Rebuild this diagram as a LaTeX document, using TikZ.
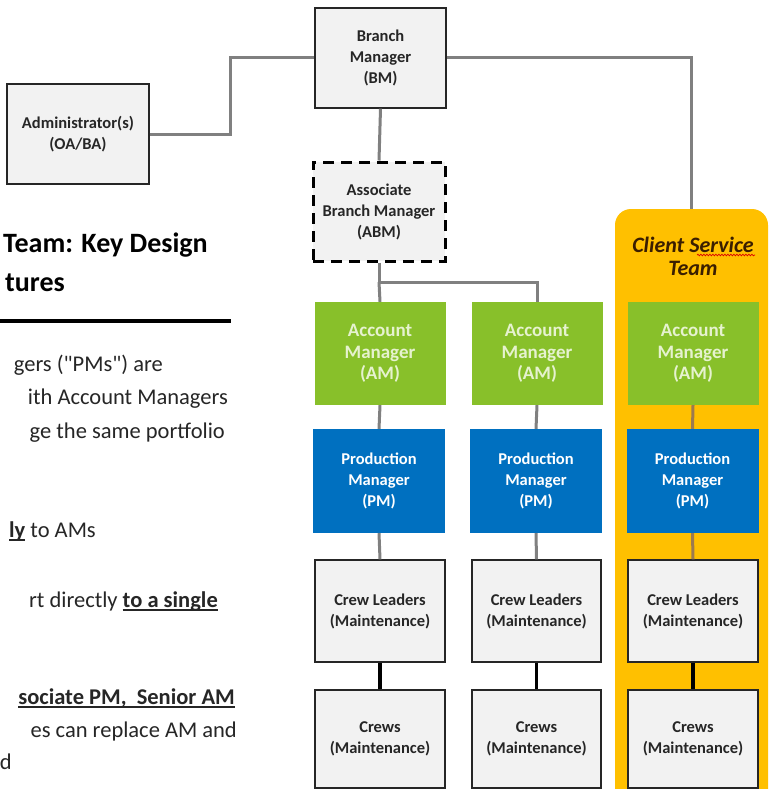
\documentclass[tikz,border=0pt]{standalone}
\usepackage{fontspec}
\setmainfont{Carlito}
\newfontfamily\rawfont{Carlito}[Ligatures=TeXOff]
\usetikzlibrary{decorations.pathmorphing}
\definecolor{boxfill}{HTML}{F2F2F2}
\definecolor{amgreen}{HTML}{88C02A}
\definecolor{amtext}{HTML}{E6F2CF}
\definecolor{pmblue}{HTML}{0070C0}
\definecolor{cstorange}{HTML}{FFC000}
\definecolor{lnk}{HTML}{808080}
\definecolor{lnkb}{HTML}{9C7A50}
\definecolor{txt}{HTML}{262626}
\definecolor{csttext}{HTML}{3A1E00}
\newcommand\bxfont{\fontsize{16.5}{21}\selectfont\bfseries}
\newcommand\amfont{\fontsize{19}{21.5}\selectfont\bfseries}
\newcommand\myul[1]{\setbox0\hbox{#1}\rlap{\rule[-4pt]{\wd0}{1.8pt}}\box0}
\newcommand\sq{{\rawfont"}}
\tikzset{
  gbox/.style={draw=black!85, line width=1.4pt, fill=boxfill, align=center, inner sep=0pt,
    font=\bxfont, text=txt, minimum width=131pt, minimum height=100pt},
  dbox/.style={gbox, draw=black, line width=3pt, dash pattern=on 11pt off 7pt},
  ambox/.style={fill=amgreen, align=center, inner sep=0pt, font=\amfont, text=amtext,
    minimum width=131pt, minimum height=103pt},
  pmbox/.style={fill=pmblue, align=center, inner sep=0pt, font=\bxfont, text=white,
    minimum width=132pt, minimum height=104pt},
  cstbox/.style={fill=cstorange, rounded corners=16pt, inner sep=0pt,
    minimum width=153pt, minimum height=611pt},
  lnkline/.style={draw=lnk, line width=3pt},
  lnkbline/.style={draw=lnkb, line width=3pt},
  blkline/.style={draw=black, line width=3.5pt},
  bodytxt/.style={anchor=base east, inner sep=0pt, text=txt, font=\fontsize{22.5}{27}\selectfont},
  headtxt/.style={anchor=base east, inner sep=0pt, text=black, font=\fontsize{28}{32}\selectfont\bfseries},
}
\begin{document}
\begin{tikzpicture}[x=1pt,y=-1pt]
\useasboundingbox (0,0) rectangle (770,789);
\clip (0,0) rectangle (770,789);
\fill[white] (0,0) rectangle (770,789);

% Client service team background
\node[cstbox] (cst) at (691.5,514.5) {};
\node[align=center, inner sep=0pt, text=csttext, font=\fontsize{22}{23}\selectfont\bfseries\itshape] (cstt) at (693,256) {Client Service\\Team};
\draw[red!85!black, line width=0.7pt, decorate, decoration={snake, segment length=3pt, amplitude=0.8pt}] (697,255) -- (755,255);

% top nodes
\node[gbox, minimum width=142pt] (admin) at (78,134) {Administrator(s)\\(OA/BA)};
\node[gbox] (bm) at (380.5,58) {Branch\\Manager\\(BM)};
\node[dbox, minimum width=132pt, minimum height=99pt] (abm) at (379,211.5) {Associate\\Branch Manager\\(ABM)};

% columns
\node[ambox] (am1) at (380,353.5) {Account\\Manager\\(AM)};
\node[ambox] (am2) at (537,353.5) {Account\\Manager\\(AM)};
\node[ambox] (am3) at (693,353.5) {Account\\Manager\\(AM)};
\node[pmbox] (pm1) at (379,481) {Production\\Manager\\(PM)};
\node[pmbox] (pm2) at (536,481) {Production\\Manager\\(PM)};
\node[pmbox] (pm3) at (692.5,481) {Production\\Manager\\(PM)};
\node[gbox, minimum width=130pt, minimum height=102pt] (cl1) at (380,611) {Crew Leaders\\(Maintenance)};
\node[gbox, minimum width=129pt, minimum height=102pt] (cl2) at (536.5,611) {Crew Leaders\\(Maintenance)};
\node[gbox, minimum width=130pt, minimum height=102pt] (cl3) at (693,611) {Crew Leaders\\(Maintenance)};
\node[gbox, minimum width=130pt, minimum height=98pt] (cr1) at (380,739) {Crews\\(Maintenance)};
\node[gbox, minimum width=129pt, minimum height=98pt] (cr2) at (536.5,739) {Crews\\(Maintenance)};
\node[gbox, minimum width=130pt, minimum height=98pt] (cr3) at (693,739) {Crews\\(Maintenance)};

% connectors
\coordinate (j1) at (230,134);
\coordinate (j2) at (379,282);
\draw[lnkline] (admin.east) -- (j1) |- (bm.west);
\draw[lnkline] (bm.east) -| (cst.north);
\draw[lnkline] (bm.south) -- (abm.north);
\draw[lnkline] (abm.south) -- (j2) -| (am2.north);
\draw[lnkline] (j2) -- (am1.north);
\draw[lnkline] (am1.south) -- (pm1.north);
\draw[lnkline] (am2.south) -- (pm2.north);
\draw[lnkbline] (am3.south) -- (pm3.north);
\draw[lnkline] (pm1.south) -- (cl1.north);
\draw[lnkline] (pm2.south) -- (cl2.north);
\draw[lnkbline] (pm3.south) -- (cl3.north);
\draw[blkline] (cl1.south) -- (cr1.north);
\draw[blkline] (cl2.south) -- (cr2.north);
\draw[blkline] (cl3.south) -- (cr3.north);

% left text (cropped slide)
\node[headtxt] (h1) at (208,252) {Team: Key Design};
\node[headtxt] (h2) at (65,291) {tures};
\fill[black] (0,319) rectangle (231,323);
\node[bodytxt] (t1) at (163,371) {gers (\sq PMs\sq) are};
\node[bodytxt] (t2) at (228,404) {ith Account Managers};
\node[bodytxt] (t3) at (225,438) {ge the same portfolio};
\node[bodytxt] (t4) at (96,537) {\myul{\bfseries ly}\ to AMs};
\node[bodytxt] (t5) at (218,607) {rt directly \myul{\bfseries to a single}};
\node[bodytxt] (t6) at (235,704) {\myul{\bfseries sociate PM,\ \ Senior AM}};
\node[bodytxt] (t7) at (237,737) {es can replace AM and};
\node[bodytxt] (t8) at (12,769) {d};
\end{tikzpicture}
\end{document}
